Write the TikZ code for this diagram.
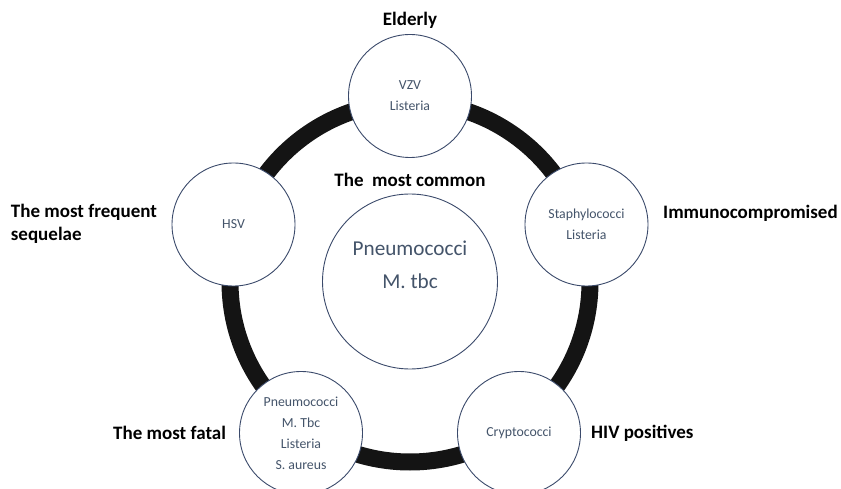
\documentclass[tikz,border=0pt]{standalone}
\usepackage{fontspec}
\setmainfont{Carlito}
\definecolor{ringc}{HTML}{141414}
\definecolor{circc}{HTML}{3B4A6B}
\definecolor{txtc}{HTML}{44546A}
\begin{document}
\begin{tikzpicture}[x=1pt,y=-1pt,
  bub/.style={circle, draw=circc, line width=0.9pt, fill=white, minimum size=123pt, inner sep=0pt,
    text=txtc, font=\fontsize{13.8}{21}\selectfont, align=center},
  bigbub/.style={bub, minimum size=175pt},
  bigtxt/.style={text=txtc, font=\fontsize{21.2}{33}\selectfont, align=center, inner sep=0pt},
  lab/.style={font=\fontsize{19}{22.5}\selectfont\bfseries, text=black, inner sep=0pt},
  ring/.style={draw=ringc, line width=17pt}]
\useasboundingbox (0,0) rectangle (841,489);
\clip (0,0) rectangle (841,489);
\coordinate (c) at (410,282);
\draw[ring] (c) circle[radius=180];
\node[bigbub] (mid) at (410,281.5) {};
\node[bigtxt] (midtxt) at (410,265) {Pneumococci\\M. tbc};
\node[bub] (top) at (410,96) {VZV\\Listeria};
\node[bub] (right) at (586.5,224.5) {Staphylococci\\Listeria};
\node[bub] (left) at (233.5,224.5) {HSV};
\node[bub] (bl) at (301,433) {Pneumococci\\M. Tbc\\Listeria\\S. aureus};
\node[bub] (br) at (519,433) {Cryptococci};
\node[lab, anchor=base] (lelderly) at (410,26) {Elderly};
\node[lab, anchor=base] (lcommon) at (410,187) {The\ \ most common};
\node[lab, anchor=base west] (limmuno) at (663,219) {Immunocompromised};
\node[lab, anchor=west, align=left] (lsequel) at (10.7,224) {The most frequent\\sequelae};
\node[lab, anchor=base west] (lfatal) at (113,439) {The most fatal};
\node[lab, anchor=base west] (lhiv) at (591,438) {HIV positives};
\end{tikzpicture}
\end{document}
